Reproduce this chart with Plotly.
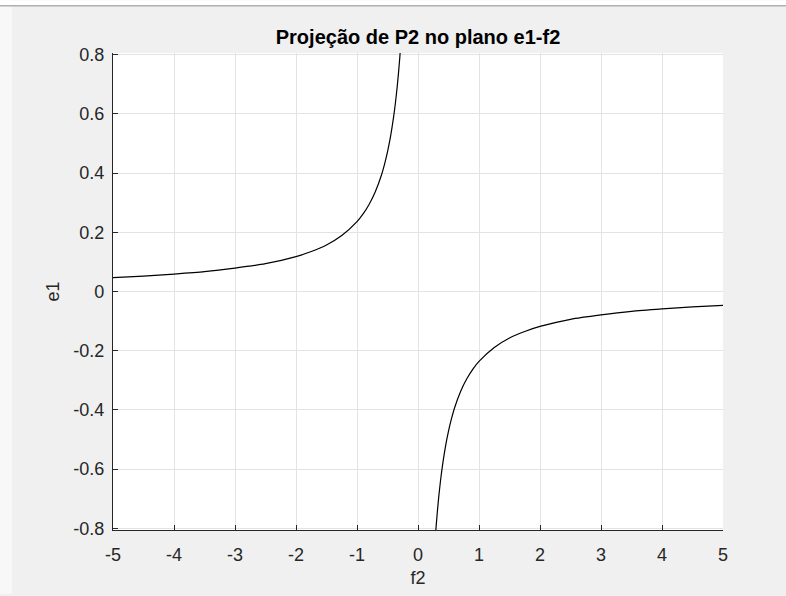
import plotly.graph_objects as go

# Left branch (f2 < 0) of the projection curve
f2_left = [-5.0, -4.5, -4.0, -3.5, -3.0, -2.5, -2.0, -1.75, -1.5, -1.25, -1.0,
           -0.9, -0.8, -0.7, -0.6, -0.55, -0.5, -0.45, -0.4, -0.37, -0.34,
           -0.32, -0.3, -0.29, -0.28]
e1_left = [0.047, 0.052, 0.059, 0.067, 0.079, 0.094, 0.118, 0.135, 0.157, 0.189, 0.236,
           0.262, 0.295, 0.337, 0.393, 0.429, 0.472, 0.524, 0.590, 0.638, 0.694,
           0.738, 0.787, 0.814, 0.843]

# Right branch (f2 > 0)
f2_right = [0.28, 0.29, 0.3, 0.32, 0.34, 0.37, 0.4, 0.45, 0.5, 0.55, 0.6,
            0.7, 0.8, 0.9, 1.0, 1.25, 1.5, 1.75, 2.0, 2.5, 3.0, 3.5, 4.0, 4.5, 5.0]
e1_right = [-0.843, -0.814, -0.787, -0.738, -0.694, -0.638, -0.590, -0.524, -0.472, -0.429, -0.393,
            -0.337, -0.295, -0.262, -0.236, -0.189, -0.157, -0.135, -0.118, -0.094, -0.079,
            -0.067, -0.059, -0.052, -0.047]

x_ticks = [-5, -4, -3, -2, -1, 0, 1, 2, 3, 4, 5]
x_labels = ["-5", "-4", "-3", "-2", "-1", "0", "1", "2", "3", "4", "5"]
y_ticks = [-0.8, -0.6, -0.4, -0.2, 0, 0.2, 0.4, 0.6, 0.8]
y_labels = ["-0.8", "-0.6", "-0.4", "-0.2", "0", "0.2", "0.4", "0.6", "0.8"]

W, H = 786, 596
ML, MR, MT, MB = 113, 63, 53, 64
PW, PH = W - ML - MR, H - MT - MB

AX = "#262626"
GRID = "#e3e3e3"
FONT = "Liberation Sans, Arial, Helvetica, sans-serif"

fig = go.Figure()
for xs, ys in ((f2_left, e1_left), (f2_right, e1_right)):
    fig.add_trace(go.Scatter(
        x=xs, y=ys, mode="lines", line=dict(color="black", width=1.2, shape="spline", smoothing=0.6),
        showlegend=False, hoverinfo="skip"))

axis_common = dict(
    showline=True, linecolor=AX, linewidth=1.3, mirror=False,
    ticks="inside", ticklen=5, tickwidth=1, tickcolor=AX,
    showgrid=True, gridcolor=GRID, gridwidth=1, zeroline=False,
    tickfont=dict(family=FONT, size=18, color=AX),
)

fig.update_layout(
    width=W, height=H,
    margin=dict(l=ML, r=MR, t=MT, b=MB),
    paper_bgcolor="#f0f0f0", plot_bgcolor="white",
    title=dict(text="<b>Projeção de P2 no plano e1-f2</b>",
               font=dict(family=FONT, size=20, color="black"),
               x=(ML + PW / 2) / W, xanchor="center",
               y=1 - 37 / H, yanchor="middle", yref="container"),
    xaxis=dict(range=[-5, 5], tickvals=x_ticks, ticktext=x_labels,
               ticklabelstandoff=8,
               title=dict(text="f2", font=dict(family=FONT, size=18, color=AX), standoff=7),
               **axis_common),
    yaxis=dict(range=[-0.806, 0.806], tickvals=y_ticks, ticktext=y_labels,
               title=dict(text="e1", font=dict(family=FONT, size=18, color=AX), standoff=8),
               ticklabelstandoff=4,
               **axis_common),
)

# Window chrome: pale strip at the left and top edge with a separator line
fig.add_shape(type="rect", xref="paper", yref="paper",
              x0=-ML / PW, x1=-(ML - 12) / PW, y0=-MB / PH, y1=1 + MT / PH,
              fillcolor="#f8f8f8", line_width=0, layer="below")
fig.add_shape(type="rect", xref="paper", yref="paper",
              x0=-ML / PW, x1=1 + MR / PW, y0=1 + (MT - 5) / PH, y1=1 + MT / PH,
              fillcolor="white", line_width=0, layer="below")
fig.add_shape(type="line", xref="paper", yref="paper",
              x0=-ML / PW, x1=1 + MR / PW, y0=1 + (MT - 5.5) / PH, y1=1 + (MT - 5.5) / PH,
              line=dict(color="#b0b0b0", width=1.5))

fig.write_html("out.html")
